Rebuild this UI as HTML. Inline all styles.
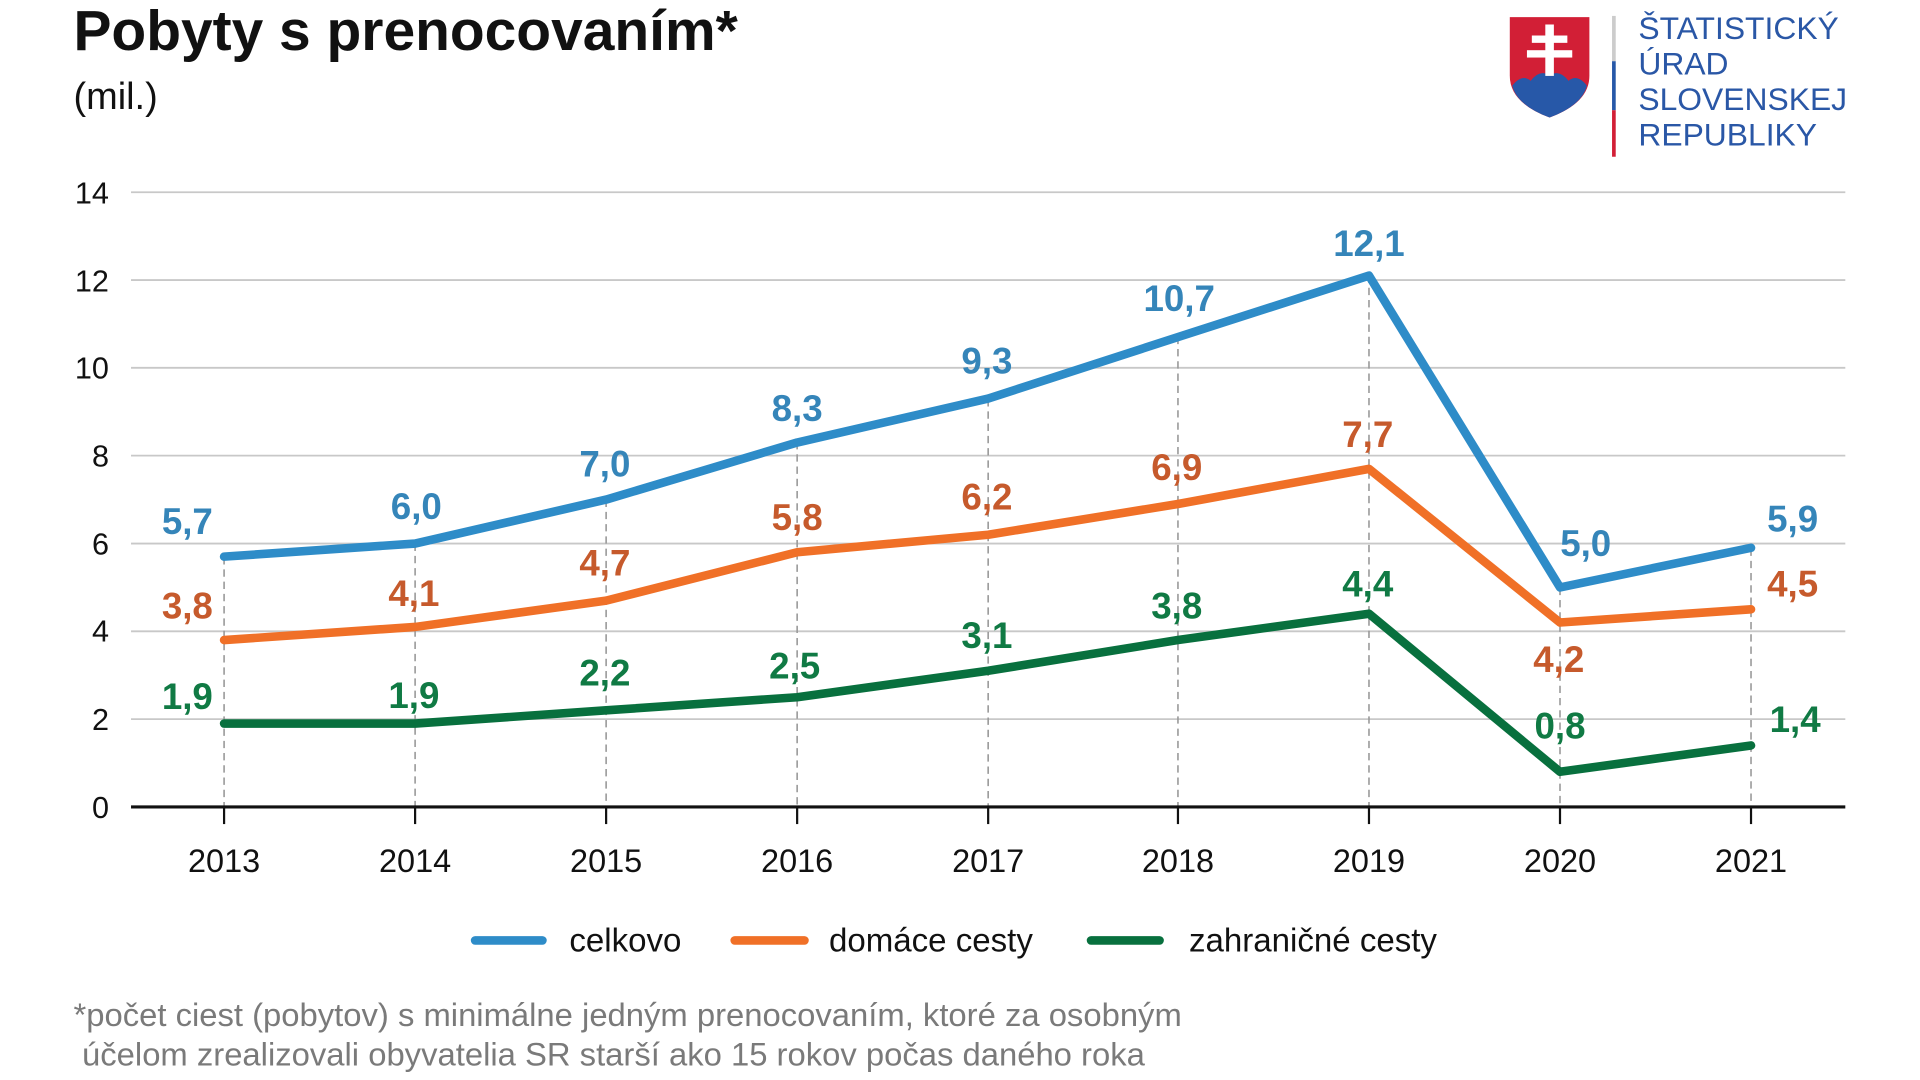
<!DOCTYPE html>
<html><head><meta charset="utf-8"><style>
html,body{margin:0;padding:0;background:#fff;width:1920px;height:1080px;overflow:hidden}
svg{display:block}
text{font-family:"Liberation Sans",sans-serif}
</style></head><body>
<svg width="1920" height="1080" viewBox="0 0 1568 882" preserveAspectRatio="none">
<text x="60" y="41" font-size="46.5" font-weight="bold" fill="#111">Pobyty s prenocovaním*</text>
<text x="60" y="89" font-size="31" fill="#111">(mil.)</text>
<g stroke="#c8c8c8" stroke-width="1.5">
<line x1="107" x2="1507" y1="157" y2="157"/><line x1="107" x2="1507" y1="228.7" y2="228.7"/>
<line x1="107" x2="1507" y1="300.4" y2="300.4"/><line x1="107" x2="1507" y1="372.1" y2="372.1"/>
<line x1="107" x2="1507" y1="443.9" y2="443.9"/><line x1="107" x2="1507" y1="515.6" y2="515.6"/>
<line x1="107" x2="1507" y1="587.3" y2="587.3"/>
</g>
<g font-size="25" fill="#111" text-anchor="end">
<text x="89" y="166">14</text><text x="89" y="238">12</text><text x="89" y="309">10</text>
<text x="89" y="381">8</text><text x="89" y="453">6</text><text x="89" y="524">4</text>
<text x="89" y="596">2</text><text x="89" y="668">0</text>
</g>
<g stroke="#999" stroke-width="1.3" stroke-dasharray="6,4">
<line x1="183" x2="183" y1="455" y2="659"/><line x1="339" x2="339" y1="444" y2="659"/>
<line x1="495" x2="495" y1="408" y2="659"/><line x1="651" x2="651" y1="361" y2="659"/>
<line x1="807" x2="807" y1="326" y2="659"/><line x1="962" x2="962" y1="275" y2="659"/>
<line x1="1118" x2="1118" y1="225" y2="659"/><line x1="1274" x2="1274" y1="480" y2="659"/>
<line x1="1430" x2="1430" y1="448" y2="659"/>
</g>
<line x1="107" x2="1507" y1="659" y2="659" stroke="#111" stroke-width="2.5"/>
<g stroke="#111" stroke-width="1.8">
<line x1="183" x2="183" y1="659" y2="673"/><line x1="339" x2="339" y1="659" y2="673"/>
<line x1="495" x2="495" y1="659" y2="673"/><line x1="651" x2="651" y1="659" y2="673"/>
<line x1="807" x2="807" y1="659" y2="673"/><line x1="962" x2="962" y1="659" y2="673"/>
<line x1="1118" x2="1118" y1="659" y2="673"/><line x1="1274" x2="1274" y1="659" y2="673"/>
<line x1="1430" x2="1430" y1="659" y2="673"/>
</g>
<g font-size="26.5" fill="#111" text-anchor="middle">
<text x="183" y="712">2013</text><text x="339" y="712">2014</text><text x="495" y="712">2015</text>
<text x="651" y="712">2016</text><text x="807" y="712">2017</text><text x="962" y="712">2018</text>
<text x="1118" y="712">2019</text><text x="1274" y="712">2020</text><text x="1430" y="712">2021</text>
</g>
<g fill="none" stroke-width="7" stroke-linejoin="round" stroke-linecap="round">
<polyline stroke="#2e8cc8" points="183,454.6 339,443.9 495,408 651,361.4 807,325.5 962,275.3 1118,225.1 1274,479.7 1430,447.4"/>
<polyline stroke="#f07027" points="183,522.7 339,512 495,490.5 651,451 807,436.7 962,411.6 1118,382.9 1274,508.4 1430,497.6"/>
<polyline stroke="#08703e" points="183,590.9 339,590.9 495,580.1 651,569.4 807,547.8 962,522.7 1118,501.2 1274,630.3 1430,608.8"/>
</g>
<g font-size="30" font-weight="bold" text-anchor="middle">
<g fill="#3585b9">
<text x="153" y="436">5,7</text><text x="340" y="424">6,0</text><text x="494" y="389">7,0</text>
<text x="651" y="344">8,3</text><text x="806" y="305">9,3</text><text x="963" y="254">10,7</text>
<text x="1118" y="209">12,1</text><text x="1295" y="454">5,0</text><text x="1464" y="434">5,9</text>
</g>
<g fill="#c65a2c">
<text x="153" y="505">3,8</text><text x="338" y="495">4,1</text><text x="494" y="470">4,7</text>
<text x="651" y="433">5,8</text><text x="806" y="416">6,2</text><text x="961" y="392">6,9</text>
<text x="1117" y="365">7,7</text><text x="1273" y="549">4,2</text><text x="1464" y="487">4,5</text>
</g>
<g fill="#107a44">
<text x="153" y="579">1,9</text><text x="338" y="578">1,9</text><text x="494" y="560">2,2</text>
<text x="649" y="554">2,5</text><text x="806" y="529">3,1</text><text x="961" y="505">3,8</text>
<text x="1117" y="487">4,4</text><text x="1274" y="603">0,8</text><text x="1466" y="598">1,4</text>
</g>
</g>
<g stroke-width="7" stroke-linecap="round">
<line x1="388" x2="443" y1="768" y2="768" stroke="#2e8cc8"/>
<line x1="600" x2="657" y1="768" y2="768" stroke="#f07027"/>
<line x1="891" x2="947" y1="768" y2="768" stroke="#08703e"/>
</g>
<g font-size="27" fill="#111">
<text x="465" y="777">celkovo</text><text x="677" y="777">domáce cesty</text><text x="971" y="777">zahraničné cesty</text>
</g>
<g font-size="26.8" fill="#7a7a7a">
<text x="60" y="838">*počet ciest (pobytov) s minimálne jedným prenocovaním, ktoré za osobným</text>
<text x="67" y="870">účelom zrealizovali obyvatelia SR starší ako 15 rokov počas daného roka</text>
</g>
<path d="M1233,14 H1298 V62 Q1298,84 1265.5,96 Q1233,84 1233,62 Z" fill="#d21f36"/>
<path d="M1235,70 Q1243,60 1250,66 Q1258,56 1265.5,62 Q1273,56 1281,66 Q1288,60 1296,70 Q1292,86 1265.5,96 Q1239,86 1235,70 Z" fill="#2758a8"/>
<g fill="#fff">
<rect x="1262" y="20" width="7" height="42"/><rect x="1251" y="29" width="29" height="6"/><rect x="1247" y="41" width="37" height="6"/>
</g>
<rect x="1316.5" y="13" width="3" height="37" fill="#ccc"/>
<rect x="1316.5" y="50" width="3" height="40" fill="#2758a8"/>
<rect x="1316.5" y="90" width="3" height="38" fill="#d21f36"/>
<g font-size="26" fill="#2a57a6" font-family="DejaVu Sans, sans-serif">
<text x="1338" y="32" font-family="DejaVu Sans,sans-serif">ŠTATISTICKÝ</text>
<text x="1338" y="61" font-family="DejaVu Sans,sans-serif">ÚRAD</text>
<text x="1338" y="90" font-family="DejaVu Sans,sans-serif">SLOVENSKEJ</text>
<text x="1338" y="119" font-family="DejaVu Sans,sans-serif">REPUBLIKY</text>
</g>
</svg>
</body></html>
